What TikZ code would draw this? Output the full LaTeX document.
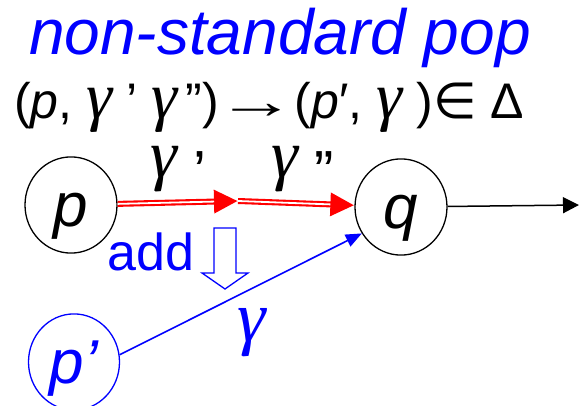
\documentclass[tikz,border=0pt]{standalone}
\usepackage{fontspec}
\setmainfont{Liberation Sans}
\newfontfamily\dejavu{DejaVu Sans}
\newfontfamily\gfont{Liberation Serif}
\usetikzlibrary{shapes.geometric,arrows.meta}
\definecolor{myblue}{RGB}{0,0,255}
\definecolor{myred}{RGB}{255,0,0}
\newcommand{\gam}[1]{{\gfont\itshape\fontsize{#1}{#1}\selectfont γ}}
\newcommand{\lowq}[1]{\raisebox{-14pt}{#1}}
\begin{document}
\begin{tikzpicture}[x=1pt,y=-1pt,
  st/.style={ellipse, draw, line width=1.3pt, minimum width=92pt, minimum height=92pt,
    inner sep=0pt, text height=56pt, text depth=12pt, font=\fontsize{62}{62}\selectfont\itshape},
  lbl/.style={inner sep=0pt, anchor=base, text height=32pt, font=\fontsize{58}{58}\selectfont},
  redarrow/.style={myred, line width=6pt, -{Triangle[length=24pt,width=22pt]}},
  redgap/.style={white, line width=1.8pt, shorten >=24pt}
]
\useasboundingbox (0,0) rectangle (582,406);
% title and rule
\node[inner sep=0pt, anchor=base, text=myblue, font=\fontsize{64}{64}\selectfont\itshape] (title) at (280,55) {non-standard pop};
\node[inner sep=0pt, anchor=base west, text depth=12pt, font=\fontsize{50}{50}\selectfont] (rule) at (14,119)
  {(\textit{p}, \gam{66} ' \gam{66}\,'')\kern-2pt\scalebox{1.6}[1]{→}\kern-2pt(\textit{p}′, \gam{66} ){\dejavu ∈} Δ};
% states
\node[st] (p) at (71,205) {p};
\node[st] (q) at (401,207) {q};
\node[st, draw=myblue, text=myblue, minimum width=91pt, minimum height=90pt] (pp) at (74,362) {p’};
\coordinate (m) at (238,201);
\coordinate (out) at (579,205);
% red transitions
\draw[redarrow] (p) -- (m);
\draw[redgap] (p) -- (m);
\draw[redarrow] (m) -- (q);
\draw[redgap] (m) -- (q);
\node[lbl] (g1) at (178,178) {\gam{68}\ \lowq{'}};
\node[lbl] (g2) at (303,178) {\gam{68}\ \lowq{''}};
% outgoing
\draw[line width=1.5pt, -{Triangle[length=16pt,width=16pt]}] (q) -- (out);
% added transition
\draw[myblue, line width=1.6pt, -{Triangle[length=16pt,width=13pt]}] (pp.9) -- (q.214);
\node[lbl, text=myblue] (g3) at (252,342) {\gam{72}};
\node[inner sep=0pt, anchor=base west, text=myblue, font=\fontsize{52}{52}\selectfont] (add) at (107,271) {add};
\draw[myblue, line width=1.3pt, fill=white] (214,228) -- (236,228) -- (236,273) -- (248,273)
  -- (225,289) -- (202,273) -- (214,273) -- cycle;
\end{tikzpicture}
\end{document}
